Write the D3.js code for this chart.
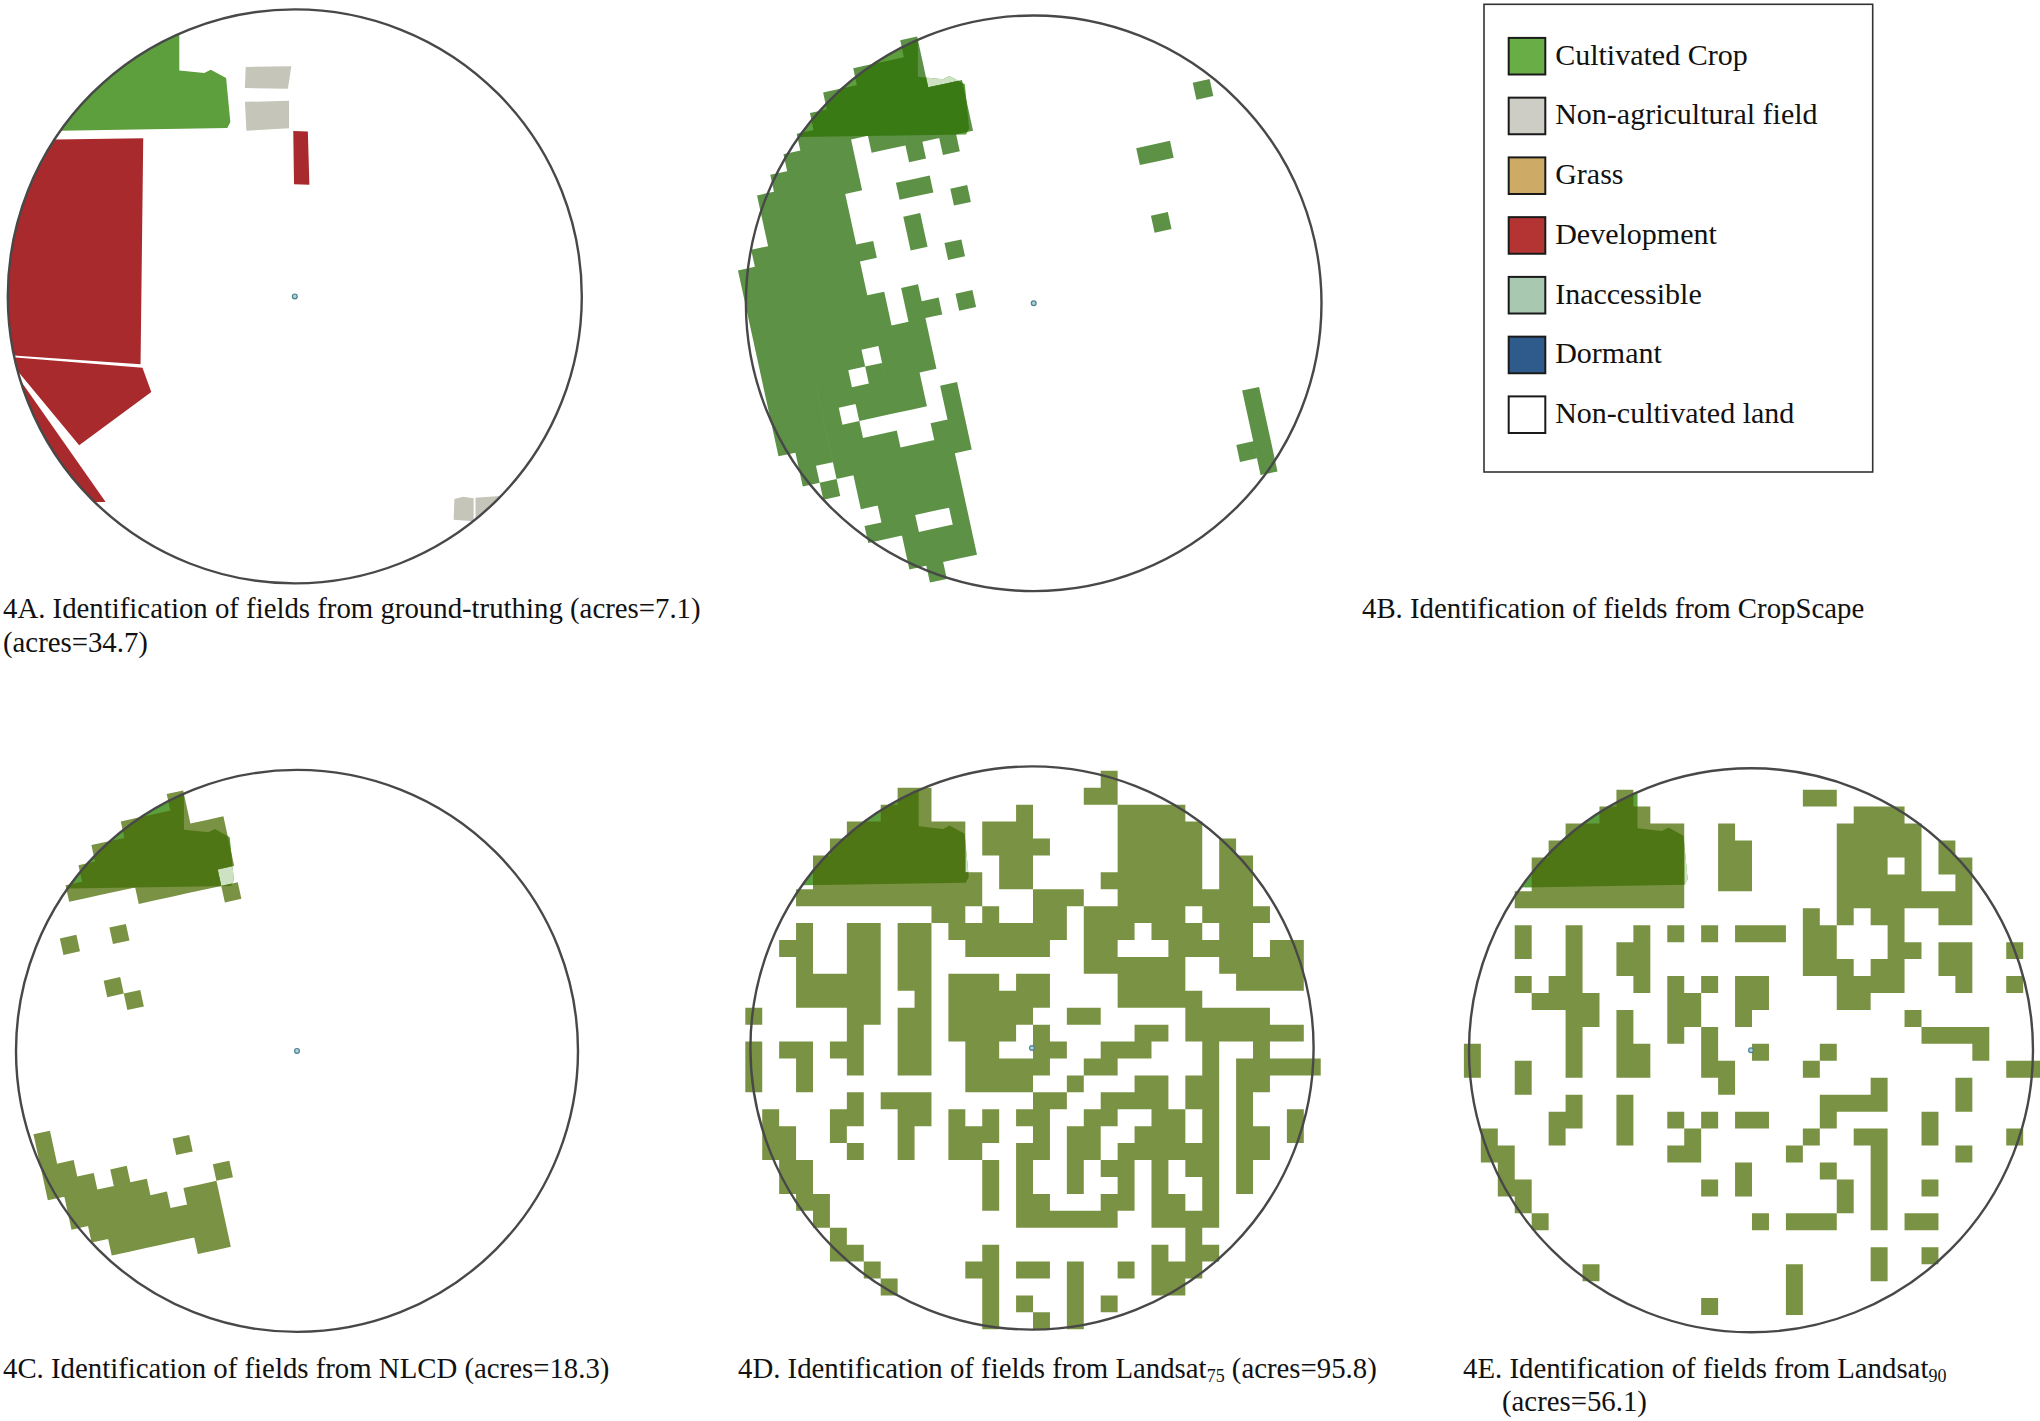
<!DOCTYPE html>
<html>
<head>
<meta charset="utf-8">
<script src="https://cdn.jsdelivr.net/npm/d3@7"></script>
<style>
  body { margin: 0; background: #fff; }
  text { font-family: "Liberation Serif", serif; fill: #111; }
</style>
</head>
<body>
<svg id="chart"></svg>
<script>
// legend
const legendLabels = ["Cultivated Crop", "Non-agricultural field", "Grass", "Development", "Inaccessible", "Dormant", "Non-cultivated land"];

// ground-truth fields, map units from the centre of the circle (radius 748)
const cropField = [[-301,-686],[-301,-589],[-236,-582],[-219,-591],[-179,-569],[-168,-454],[-176,-439],[-611,-432],[-780,-432],[-780,-686]];
const developmentFields = [
  [[-624,-409],[-395,-412],[-402,177],[-733,154],[-800,154],[-800,-409]],
  [[-727,159],[-397,186],[-374,249],[-562,388],[-723,194],[-800,194],[-800,159]],
  [[-721,211],[-493,536],[-523,536],[-800,400],[-800,211]],
  [[-4,-431],[34,-430],[38,-291],[-2,-292]]
];
const nonAgriFields = [
  [[-128,-598],[-9,-600],[-18,-541],[-130,-543]],
  [[-130,-507],[-15,-510],[-15,-438],[-126,-432]],
  [[416,528],[439,522],[466,526],[466,586],[414,582]],
  [[471,525],[534,520],[600,600],[471,620]]
];

// rasters: CropScape and NLCD are listed by column, each entry being the row runs in that column
const cropScape = ["11-21","10-23","7-22 24","6-23","5-19 21-25 27","4-17 19-20 22-27","3-16 18-20 22-29",
  "2-7 11 14-20 23-26 28-30","2-4 16-20 23-26 28-29","1-5 14-18 22-29","1-5 8 10-11 15 20-23","1-6 8","0-5 12 15","3-6 9","3-5",
  "","","","","","","","","","9 13","9","27","24-28","6"];
const cropScapePale = ["","","","","","","","","","","","","","2","2"];
const nlcd = ["18-21","20-23","21-24","22-25","7 21-25","4 22-25","3-4 10 23-25","2-4 7 11 24-25","2-4 20 23-26","1-5 23-26","1-5 22","1-5","0-5","2-5","2-4 6"];
const nlcdPale = ["","","","","","","","","","","","","","","5"];

// Landsat rasters are listed by row, each entry being the column runs in that row
const landsat75 = ["21","9-10 20-21","8-10 16 22-25","6-12 14-16 22-26","5-12 14-17 22-26 28","4-12 15-16 22-26 28-29",
  "4-13 15-16 21-26 28-29","3-13 17-19 22-29","11-12 14 17-18 20-25 27-30","3 6-7 9-10 12-18 20-22 24-26 28-29",
  "2-3 6-7 9-10 13-17 20-21 25-29 31-32","3 6-7 9-10 20-25 28-32","3-7 9-10 12-14 16-17 22-25 29-32","3-7 10 12-17 22-26",
  "0 6-7 9-10 12-16 19-20 26-30","6 9-10 12-15 17 23-24 26-32","0 2-3 5-6 9-10 13-14 17-18 21-23 27 30",
  "0 3 6 9-10 13-17 20-21 27 29-33","0 3 13-16 19 23-24 26-27 29-30","6 8-10 17-18 21-24 26-27 29",
  "1 5-6 9-10 12 14 16-17 20-21 24-25 27 29 32","1-2 5 9 12-14 17 19-20 23-25 27 29-30 32","1-2 6 9 12-13 16-17 19-20 22-27 29-30",
  "2-3 14 16 19 21-22 24 26-27 29","2-3 14 16 19 22 24 27 29","3-4 14 16-17 21-22 24-25 27","4 16-21 24-27","5 26",
  "5-6 14 24 26-27","7 13-14 16-17 19 22 24-26","8 14 19 24-25","14 16 19 21","14 17 19"];
const landsat75Pale = ["","","","","13","13"];
const landsat90 = ["","9 20-21","8-10 23-25","6-12 15 22-26","5-12 15-16 22-26 28","4-12 15-16 22-24 26 28-29","4-12 15-16 22-26 29",
  "3-12 22-29","20 22 24-25 28-29","3 6 10 12 14 16-18 20-21 25","3 6 9-10 20-21 25-26 28-29 32","6 9-10 20-22 24-25 28-29",
  "3 5-6 10 12 14 16-17 22-25 29 32","4-7 12-13 16-17 22-23","6-7 9 12-13 16 26","6 9 12 14 27-30","0 6 9-10 14 17 21 30",
  "0 3 6 9-10 14-15 20 32-33","3 15 24 29","6 9 21-24 29","5-6 9 12 14 16-17 21 27","1 5 9 13 20 23-24 27 32","1-2 12-13 19 24 29",
  "2 16 21 24","2-3 14 16 22 24 27","3 22 24","4 17 19-21 24 26-27","","24 27","7 19 24","19","14 19"];
const landsat90Pale = ["","","","","13","13","13"];

const panelCaptions = [
  [["4A. Identification of fields from ground-truthing (acres=7.1)"], ["(acres=34.7)"]],
  [["4B. Identification of fields from CropScape"]],
  [["4C. Identification of fields from NLCD (acres=18.3)"]],
  [["4D. Identification of fields from Landsat", "75", " (acres=95.8)"]],
  [["4E. Identification of fields from Landsat", "90"], ["(acres=56.1)"]]
];

const width = 2040, height = 1421;
const legendColors = ["#68ad45", "#cdcdc5", "#cdaa66", "#b43433", "#a8c8b0", "#2f5a8c", "#ffffff"];
const legendColor = d3.scaleOrdinal(legendLabels, legendColors);

const svg = d3.select("#chart").attr("width", width).attr("height", height);
svg.append("rect").attr("width", width).attr("height", height).attr("fill", "#fff");

// turns ["1-3 5", ...] into cells, the index of the entry being the line
function runsToPath(lines, byColumn, xscale, yscale) {
  const p = d3.path();
  lines.forEach((line, k) => {
    line.split(" ").filter(s => s).forEach(tok => {
      const [a, b] = tok.split("-").map(Number);
      const end = (b === undefined ? a : b) + 1;
      if (byColumn) p.rect(xscale(k), yscale(a), xscale(k + 1) - xscale(k), yscale(end) - yscale(a));
      else p.rect(xscale(a), yscale(k), xscale(end) - xscale(a), yscale(k + 1) - yscale(k));
    });
  });
  return p.toString();
}

class FieldMap {

  constructor(config) {
    this.config = config;
    this.init();
  }

  init() {
    let self = this;
    const c = self.config;

    self.g = svg.append("g").attr("transform", `translate(${c.cx},${c.cy})`);
    self.xscale = d3.scaleLinear().domain([-748, 748]).range([-c.r, c.r]);
    self.yscale = d3.scaleLinear().domain([-748, 748]).range([-c.r, c.r]);
    self.line = d3.line().x(d => self.xscale(d[0])).y(d => self.yscale(d[1]));

    // raster scales: one unit is one pixel of the satellite product
    const pitch = 0.0601 * c.r;
    self.colscale = d3.scaleLinear().domain([0, 1]).range([pitch * c.originX, pitch * (c.originX + 1)]);
    self.rowscale = d3.scaleLinear().domain([0, 1]).range([pitch * c.originY, pitch * (c.originY + 1)]);

    const defs = self.g.append("defs");
    defs.append("clipPath").attr("id", `${c.id}-circle`)
      .append("circle").attr("r", c.r);
    defs.append("clipPath").attr("id", `${c.id}-crop`)
      .append("path").attr("d", self.line(cropField) + "Z");
    if (c.raster) {
      defs.append("clipPath").attr("id", `${c.id}-raster`)
        .append("path").attr("d", self.rasterPath(c.raster)).attr("transform", `rotate(${c.rotate})`);
    }
    self.render();
  }

  rasterPath(lines) {
    return runsToPath(lines, this.config.byColumn, this.colscale, this.rowscale);
  }

  polygons(parent, list, fill) {
    parent.selectAll(null).data(list).join("path")
      .attr("d", d => this.line(d) + "Z")
      .attr("fill", fill);
  }

  render() {
    let self = this;
    const c = self.config;
    const inside = self.g.append("g").attr("clip-path", `url(#${c.id}-circle)`);

    self.polygons(inside, [cropField], c.cropColor);

    if (c.groundTruth) {
      self.polygons(inside, developmentFields, "#a82a2c");
      self.polygons(inside, nonAgriFields, "#c5c5b9");
    }
    if (c.pale) {
      inside.append("g").attr("clip-path", `url(#${c.id}-crop)`)
        .append("path").attr("d", self.rasterPath(c.pale))
        .attr("transform", `rotate(${c.rotate})`)
        .attr("fill", "#cde2c2");
    }
    if (c.raster) {
      self.g.append("path").attr("d", self.rasterPath(c.raster))
        .attr("transform", `rotate(${c.rotate})`)
        .attr("fill", c.rasterColor);
      // dark where the ground-truth field and the raster overlap
      self.g.append("g").attr("clip-path", `url(#${c.id}-circle)`)
        .append("g").attr("clip-path", `url(#${c.id}-raster)`)
        .append("path").attr("d", self.line(cropField) + "Z")
        .attr("fill", c.overlapColor);
    }

    self.g.append("circle").attr("r", c.r)
      .attr("fill", "none").attr("stroke", "#484848").attr("stroke-width", 2.4);
    self.g.append("circle").attr("r", 2.4)
      .attr("fill", "#a9d3dc").attr("stroke", "#4f7f8c").attr("stroke-width", 1.2);
  }
}

const greenRaster = { rotate: -12.3, byColumn: true, originX: -16.3, originY: -16.5 };
const landsatRaster = { rotate: 0, byColumn: false, originX: -16.94, originY: -16.38, rasterColor: "#7a9243", overlapColor: "#4f7614" };

new FieldMap({ id: "a", cx: 294.8, cy: 296.4, r: 287, rotate: 0, groundTruth: true, cropColor: "#5c9f3c" });
new FieldMap({ id: "b", cx: 1033.7, cy: 303.3, r: 287.8, cropColor: "#5c9f3c", raster: cropScape, pale: cropScapePale,
  rasterColor: "#5c9146", overlapColor: "#3a7a14", ...greenRaster });
new FieldMap({ id: "c", cx: 297, cy: 1050.9, r: 281, cropColor: "#5aa13e", raster: nlcd, pale: nlcdPale,
  rasterColor: "#7a9243", overlapColor: "#4f7614", ...greenRaster });
new FieldMap({ id: "d", cx: 1032, cy: 1048, r: 281.6, cropColor: "#5aa13e", raster: landsat75, pale: landsat75Pale, ...landsatRaster });
new FieldMap({ id: "e", cx: 1751, cy: 1050.3, r: 282, cropColor: "#5aa13e", raster: landsat90, pale: landsat90Pale, ...landsatRaster });

// captions
const captionSpots = [
  [[3, 618], [3, 652]],
  [[1362, 618]],
  [[3, 1378]],
  [[738, 1378]],
  [[1463, 1378], [1502, 1411]]
];
panelCaptions.forEach((lines, i) => {
  lines.forEach((parts, k) => {
    const t = svg.append("text")
      .attr("x", captionSpots[i][k][0])
      .attr("y", captionSpots[i][k][1])
      .attr("font-size", 28.8);
    parts.forEach((s, n) => {
      const span = t.append("tspan").text(s);
      if (n === 1) span.attr("font-size", 18).attr("dy", 4);
      if (n === 2) span.attr("dy", -4);
    });
  });
});

// legend box
const legend = svg.append("g");
legend.append("rect")
  .attr("x", 1484).attr("y", 4.3).attr("width", 388.7).attr("height", 467.7)
  .attr("fill", "#fff").attr("stroke", "#333").attr("stroke-width", 1.6);

const legendY = d3.scalePoint().domain(legendLabels).range([56.2, 414.7]);

legend.selectAll("rect.swatch").data(legendLabels).join("rect")
  .attr("class", "swatch")
  .attr("x", 1508.7)
  .attr("y", d => legendY(d) - 18.3)
  .attr("width", 36.6)
  .attr("height", 36.6)
  .attr("fill", d => legendColor(d))
  .attr("stroke", "#1a1a1a")
  .attr("stroke-width", 2);

legend.selectAll("text").data(legendLabels).join("text")
  .attr("x", 1555.2)
  .attr("y", d => legendY(d) + 8.3)
  .attr("font-size", 30)
  .text(d => d);
</script>
</body>
</html>
